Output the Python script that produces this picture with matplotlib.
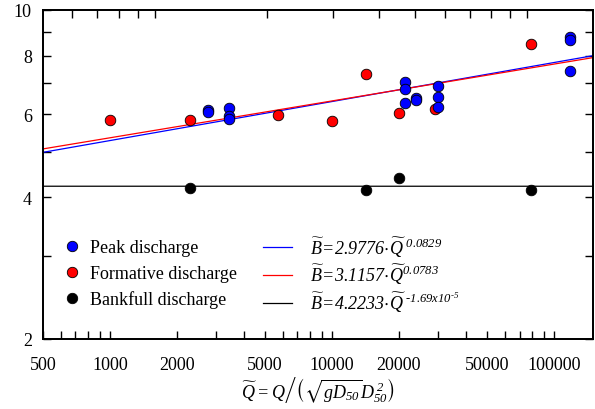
import numpy as np
import matplotlib
matplotlib.use('Agg')
import matplotlib.pyplot as plt
from matplotlib.ticker import FixedLocator, FixedFormatter, NullFormatter
from matplotlib.lines import Line2D

# --- values ---
peak_q = [2780, 2780, 3450, 3450, 3450, 21300, 21300, 21300,
          23900, 23900, 30000, 30000, 30000, 118000, 118000, 118000]
peak_b = [6.13, 6.06, 6.19, 5.94, 5.87, 7.04, 6.78, 6.36,
          6.50, 6.43, 6.88, 6.54, 6.21, 8.78, 8.62, 7.42]

form_q = [1000, 2300, 5700, 10000, 14200, 20000, 29200, 78600]
form_b = [5.85, 5.85, 5.99, 5.80, 7.32, 6.04, 6.16, 8.45]

bank_q = [2300, 14200, 20000, 78600]
bank_b = [4.19, 4.15, 4.39, 4.15]

# power-law fits  B = a * Q^b
peak_fit = (2.9776, 0.0829)
form_fit = (3.1157, 0.0783)
bank_fit = (4.2233, -1.69e-5)

x_major = [500, 1000, 2000, 5000, 10000, 20000, 50000, 100000]
x_minor = [600, 700, 800, 900, 3000, 4000, 6000, 7000, 8000, 9000,
           30000, 40000, 60000, 70000, 80000, 90000]
y_major = [2, 4, 6, 8, 10]
y_minor = [3, 5, 7, 9]
top_ticks = [0.6, 0.7, 0.8, 0.9, 1, 2, 3, 4, 5, 6, 7, 8, 9, 10]

FS = 13

plt.rcParams['font.family'] = ['Liberation Serif', 'DejaVu Serif']
plt.rcParams['mathtext.fontset'] = 'custom'
plt.rcParams['mathtext.rm'] = 'Liberation Serif:italic'
plt.rcParams['mathtext.it'] = 'Liberation Serif:italic'
plt.rcParams['mathtext.bf'] = 'Liberation Serif:bold'
plt.rcParams['mathtext.fallback'] = 'stix'

fig = plt.figure(figsize=(5.95, 4.10), dpi=100)
ax = fig.add_axes([43 / 595, 1 - 340 / 410, 550 / 595, 329 / 410])
ax.set_xscale('log')
ax.set_yscale('log')
ax.set_xlim(500, 150000)
ax.set_ylim(2, 10)

# fitted lines
qq = np.geomspace(500, 150000, 60)
ax.plot(qq, peak_fit[0] * qq ** peak_fit[1], color='blue', lw=0.9, zorder=2)
ax.plot(qq, form_fit[0] * qq ** form_fit[1], color='red', lw=0.9, zorder=2)
ax.plot(qq, bank_fit[0] * qq ** bank_fit[1], color='black', lw=0.9, zorder=2)

# points
mk = dict(s=58, edgecolors='black', linewidths=0.6, zorder=3)
ax.scatter(form_q, form_b, color='red', **mk)
ax.scatter(peak_q, peak_b, color='blue', **mk)
ax.scatter(bank_q, bank_b, color='black', **mk)

# ticks
ax.xaxis.set_major_locator(FixedLocator(x_major))
ax.xaxis.set_major_formatter(FixedFormatter([str(v) for v in x_major]))
ax.xaxis.set_minor_locator(FixedLocator(x_minor))
ax.xaxis.set_minor_formatter(NullFormatter())
ax.yaxis.set_major_locator(FixedLocator(y_major))
ax.yaxis.set_major_formatter(FixedFormatter([str(v) for v in y_major]))
ax.yaxis.set_minor_locator(FixedLocator(y_minor))
ax.yaxis.set_minor_formatter(NullFormatter())
ax.tick_params(which='both', direction='in', length=6, width=1,
               right=True, top=False, labelsize=FS)
ax.tick_params(axis='x', pad=12)
ax.tick_params(axis='y', pad=8)

# secondary top scale (only ticks shown)
top = ax.twiny()
top.set_xscale('log')
top.set_xlim(0.5, 15)
top.xaxis.set_major_locator(FixedLocator(top_ticks))
top.xaxis.set_minor_locator(FixedLocator([]))
top.xaxis.set_major_formatter(NullFormatter())
top.tick_params(which='both', direction='in', length=6, width=1,
                top=True, bottom=False)

for a in (ax, top):
    for sp in a.spines.values():
        sp.set_linewidth(1.3)

# legends
pts = [Line2D([], [], ls='none', marker='o', ms=7.5, mfc=c, mec='black', mew=0.6)
       for c in ('blue', 'red', 'black')]
leg1 = ax.legend(pts, ['Peak discharge', 'Formative discharge', 'Bankfull discharge'],
                 loc='upper left', bbox_to_anchor=(0.02, 0.33), frameon=False,
                 fontsize=FS, handlelength=1.0, handletextpad=0.5,
                 labelspacing=0.47, borderpad=0)
ax.add_artist(leg1)

lns = [Line2D([], [], color=c, lw=0.9) for c in ('blue', 'red', 'black')]
eqs = [r'$\widetilde{B}\!=\!2.9776\!\cdot\!\widetilde{Q}^{\ 0.0829}$',
       r'$\widetilde{B}\!=\!3.1157\!\cdot\!\widetilde{Q}^{0.0783}$',
       r'$\widetilde{B}\!=\!4.2233\!\cdot\!\widetilde{Q}^{\ \text{-}1.69x10^{\text{-}5}}$']
ax.legend(lns, eqs, loc='upper left', bbox_to_anchor=(0.384, 0.345), frameon=False,
          fontsize=FS, handlelength=1.6, handletextpad=1.0,
          labelspacing=0.2, borderpad=0)

ax.set_xlabel(r'$\widetilde{Q}=Q\left/\left(\sqrt{gD_{50}}D_{50}^{\,2}\right)\right.$',
              fontsize=FS, labelpad=1)

fig.savefig('out.png', dpi=100)
